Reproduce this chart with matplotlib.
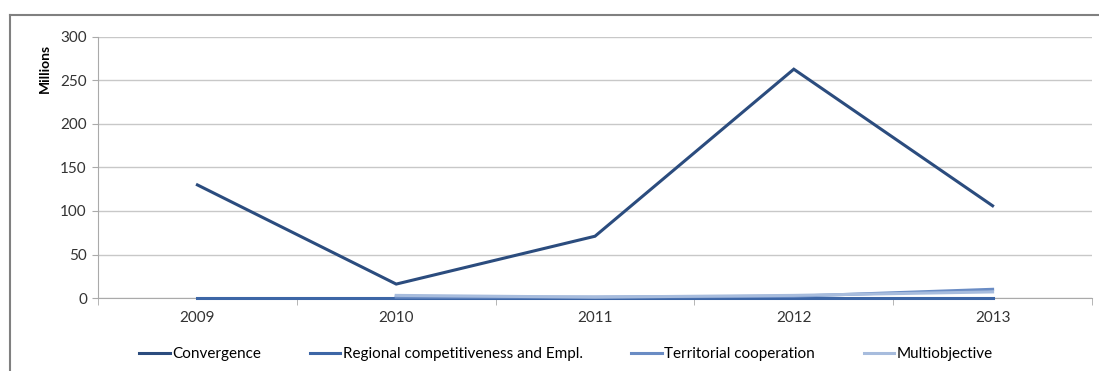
import numpy as np
import matplotlib.pyplot as plt
from matplotlib.lines import Line2D

years = ['2009', '2010', '2011', '2012', '2013']
convergence = [130, 16, 71, 263, 106]
regional = [0.5, 0.5, 0.5, 0.5, 0.5]
territorial = [np.nan, 1, 1, 2, 10]
multiobjective = [np.nan, 3, 1, 3, 7]

series = [
    ('Convergence', convergence, '#2B4C7E'),
    ('Regional competitiveness and Empl.', regional, '#3D66A6'),
    ('Territorial cooperation', territorial, '#6A8CC4'),
    ('Multiobjective', multiobjective, '#A7BCDD'),
]

plt.rcParams['font.family'] = ['Lato', 'DejaVu Sans']

fig = plt.figure(figsize=(10.99, 3.71), dpi=100)
ax = fig.add_axes([98 / 1099, 1 - 298 / 371, (1092 - 98) / 1099, (298 - 37) / 371])

x = np.arange(len(years))
for name, vals, color in series:
    ax.plot(x, vals, color=color, lw=2.2, label=name, solid_joinstyle='miter',
            clip_on=False, zorder=3)

ax.set_xlim(-0.5, len(years) - 0.5)
ax.set_ylim(0, 300)
ax.set_yticks(range(0, 301, 50))
ax.set_xticks(x)
ax.set_xticklabels(years)
ax.set_xticks(np.arange(-0.5, len(years), 1), minor=True)
ax.tick_params(axis='x', which='major', length=0, pad=9, labelsize=11, labelcolor='#333333')
ax.tick_params(axis='x', which='minor', length=5, color='#AAAAAA', direction='out')
ax.tick_params(axis='y', length=4, color='#AAAAAA', labelsize=11, labelcolor='#333333', pad=4)

ax.grid(axis='y', color='#C8C8C8', lw=1)
ax.set_axisbelow(True)
for side in ['top', 'right']:
    ax.spines[side].set_visible(False)
ax.spines['left'].set_color('#AAAAAA')
ax.spines['bottom'].set_color('#AAAAAA')

fig.text(45 / 1099, 1 - 68 / 371, 'Millions', rotation=90, fontsize=10, fontweight='bold',
         ha='center', va='center')

# outer frame (left and top edges)
fig.add_artist(Line2D([10 / 1099, 10 / 1099], [0, 1 - 15 / 371], color='#808080', lw=1.5))
fig.add_artist(Line2D([10 / 1099, 1], [1 - 15 / 371, 1 - 15 / 371], color='#808080', lw=1.5))

fig.legend(loc='center', bbox_to_anchor=(0.515, 1 - 354 / 371), ncol=4, frameon=False,
           fontsize=11, handlelength=2.0, handletextpad=0.15, columnspacing=3.2)

fig.savefig('out.png', dpi=100)
